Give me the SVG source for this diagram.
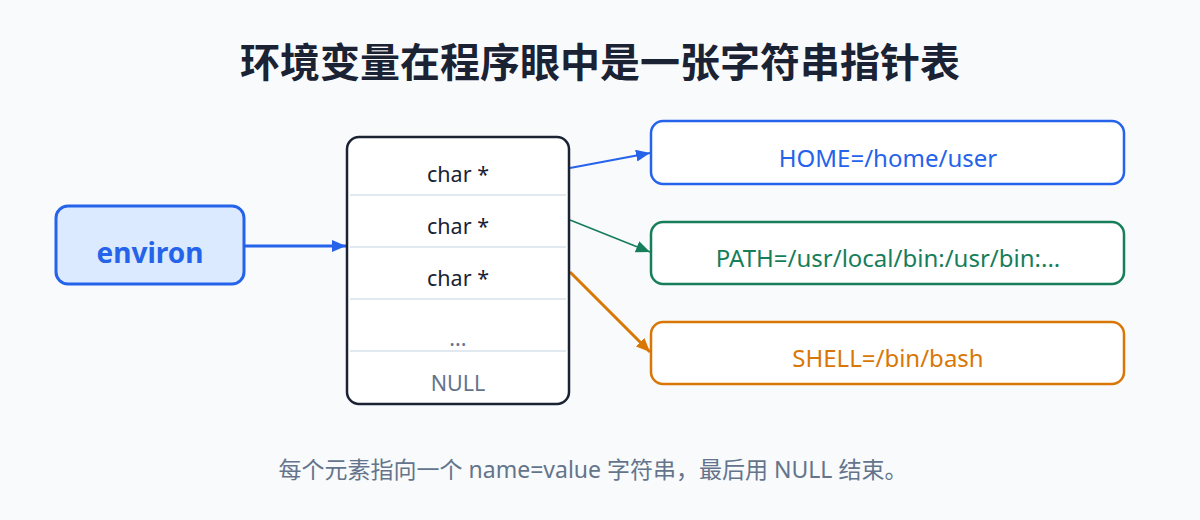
<svg xmlns="http://www.w3.org/2000/svg" width="1200" height="520" viewBox="0 0 1200 520">
<defs>
<style>
.t{font-family:"Noto Sans","Noto Sans CJK SC",sans-serif}
.title{font-size:40px;font-weight:700;fill:#1a2233;text-anchor:middle}
.cell{font-size:21.5px;fill:#1a2233;text-anchor:middle}
.muted{fill:#64748b}
.sep{stroke:#e2e8f0;stroke-width:2}
.val{font-size:24px;text-anchor:middle}
.box{fill:#ffffff;stroke-width:2.5}
</style>
<marker id="mb" viewBox="0 0 14 12" refX="14" refY="6" markerWidth="14" markerHeight="12" markerUnits="userSpaceOnUse" orient="auto"><path d="M0,0 L14,6 L0,12 z" fill="#2563eb"/></marker>
<marker id="mg" viewBox="0 0 14 12" refX="14" refY="6" markerWidth="14" markerHeight="12" markerUnits="userSpaceOnUse" orient="auto"><path d="M0,0 L14,6 L0,12 z" fill="#177e5a"/></marker>
<marker id="mo" viewBox="0 0 14 12" refX="14" refY="6" markerWidth="14" markerHeight="12" markerUnits="userSpaceOnUse" orient="auto"><path d="M0,0 L14,6 L0,12 z" fill="#d97706"/></marker>
</defs>
<rect width="1200" height="520" fill="#f8fafc"/>
<text class="t title" x="600" y="77">环境变量在程序眼中是一张字符串指针表</text>

<g id="connectors" fill="none">
<line x1="245" y1="246" x2="346" y2="246" stroke="#2563eb" stroke-width="3" marker-end="url(#mb)"/>
<line x1="570" y1="168" x2="650" y2="153" stroke="#2563eb" stroke-width="2" marker-end="url(#mb)"/>
<line x1="570" y1="220" x2="650" y2="252" stroke="#177e5a" stroke-width="1.8" marker-end="url(#mg)"/>
<line x1="570" y1="272" x2="650" y2="352" stroke="#d97706" stroke-width="3" marker-end="url(#mo)"/>
</g>

<g id="environ">
<rect x="56" y="206" width="188" height="78" rx="12" fill="#dbeafe" stroke="#2563eb" stroke-width="3"/>
<text class="t" x="150" y="263" font-size="28" font-weight="700" fill="#2563eb" text-anchor="middle">environ</text>
</g>

<g id="table">
<rect x="347" y="137" width="222" height="267" rx="12" fill="#ffffff" stroke="#1a2233" stroke-width="2.5"/>
<line class="sep" x1="350" y1="195" x2="566" y2="195"/>
<line class="sep" x1="350" y1="247" x2="566" y2="247"/>
<line class="sep" x1="350" y1="299" x2="566" y2="299"/>
<line class="sep" x1="350" y1="351" x2="566" y2="351"/>
<text class="t cell" x="458" y="182">char *</text>
<text class="t cell" x="458" y="234">char *</text>
<text class="t cell" x="458" y="286">char *</text>
<text class="t cell muted" x="458" y="346">...</text>
<text class="t cell muted" x="458" y="391">NULL</text>
</g>

<g id="home">
<rect class="box" x="651" y="121" width="473" height="63" rx="12" stroke="#2563eb"/>
<text class="t val" x="888" y="167" fill="#2563eb">HOME=/home/user</text>
</g>
<g id="path">
<rect class="box" x="651" y="222" width="473" height="62" rx="12" stroke="#177e5a"/>
<text class="t val" x="888" y="267" fill="#177e5a">PATH=/usr/local/bin:/usr/bin:...</text>
</g>
<g id="shell">
<rect class="box" x="651" y="322" width="473" height="62" rx="12" stroke="#d97706"/>
<text class="t val" x="888" y="367" fill="#d97706">SHELL=/bin/bash</text>
</g>

<text class="t" x="593" y="478" font-size="23" fill="#64748b" text-anchor="middle">每个元素指向一个 name=value 字符串，最后用 NULL 结束。</text>
</svg>
